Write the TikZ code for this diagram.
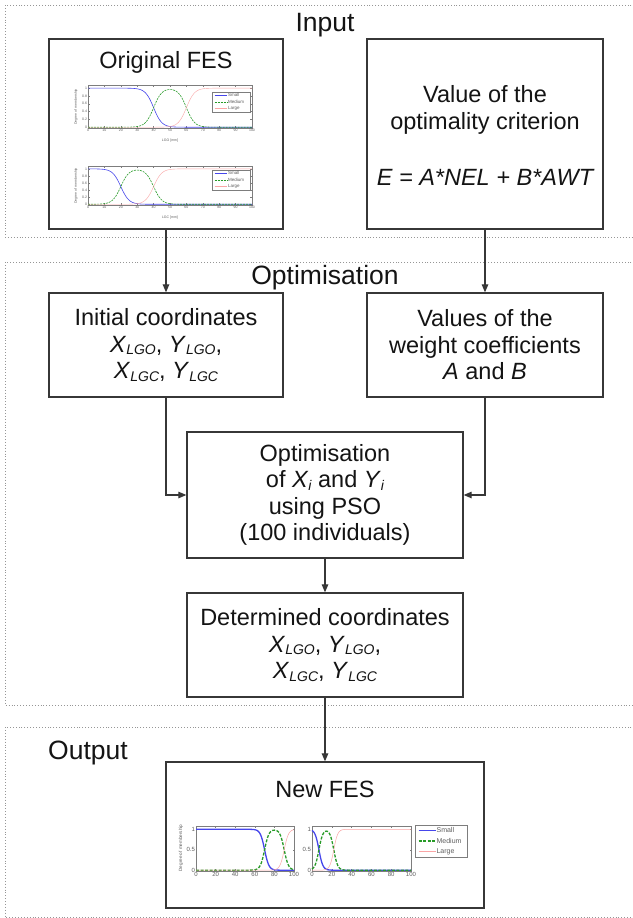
\documentclass[tikz,border=0pt]{standalone}
\usepackage{fontspec}
\setmainfont{Liberation Sans}
\usetikzlibrary{arrows.meta}
\definecolor{boxc}{RGB}{55,55,55}
\definecolor{dotc}{RGB}{150,150,150}
\definecolor{smallc}{RGB}{70,70,235}
\definecolor{medc}{RGB}{40,155,40}
\definecolor{largec}{RGB}{250,165,165}
\definecolor{axc}{RGB}{125,125,125}
\definecolor{labc}{RGB}{95,95,95}
\definecolor{txtc}{RGB}{20,20,20}
\newcommand\lsub[1]{\raisebox{-2.5pt}{\fontsize{14}{14}\selectfont\itshape #1}}
\newcommand\tickfont{\fontsize{3.5}{3.5}\selectfont}
\newcommand\legfont{\fontsize{4.5}{4.5}\selectfont}
\tikzset{
  region/.style={draw=dotc, dotted, line width=0.9pt},
  block/.style={draw=boxc, line width=1.3pt, inner sep=0pt, align=center, text=txtc,
                font=\fontsize{23.5}{26.5}\selectfont},
  txt/.style={inner sep=0pt, align=center, text=txtc, font=\fontsize{23.5}{26.5}\selectfont},
  head/.style={inner sep=0pt, text=txtc, font=\fontsize{26.5}{30}\selectfont},
  conn/.style={draw=boxc, line width=1.2pt, -{Triangle[length=8pt,width=6.5pt]}},
  axline/.style={draw=axc, line width=0.4pt},
  ticklab/.style={inner sep=0.8pt, text=labc, font=\tickfont},
  leglab/.style={inner sep=0.6pt, anchor=west, text=labc, font=\legfont},
  smallline/.style={draw=smallc, line width=0.6pt},
  medline/.style={draw=medc, line width=0.6pt, dash pattern=on 2pt off 1pt},
  largeline/.style={draw=largec, line width=0.4pt},
}
% #1 left #2 top #3 right #4 bottom (px), #5 x tick step, #6 y ticks, #7 c1, #8 c2, #9 k
\newcommand\fesplot[9]{%
  \pgfmathsetmacro\axw{(#3-#1)/100}%
  \pgfmathsetmacro\axh{(#4-#2)/1.1}%
  \pgfmathsetmacro\ayo{#4-0.02*\axh}%
  \begin{scope}[shift={(#1,\ayo)}, x=\axw pt, y=\axh pt]
    \draw[axline] (0,-0.02) rectangle (100,1.08);
    \foreach \tk in {0,#5,...,100}{%
      \draw[axline] (\tk,-0.02) -- ++(0,0.06) (\tk,1.08) -- ++(0,-0.06);
      \node[ticklab, anchor=north] at (\tk,-0.02) {\tk};}
    \foreach \tk in {#6}{%
      \draw[axline] (0,\tk) -- ++(1.2,0) (100,\tk) -- ++(-1.2,0);
      \node[ticklab, anchor=east] at (0,\tk) {\tk};}
    \draw[smallline] plot[domain=0:100, samples=161]
      (\x,{1/(1+exp(max(-9,min(9,(\x-#7)/#9))))});
    \draw[medline] plot[domain=0:100, samples=161]
      (\x,{1/(1+exp(max(-9,min(9,(#7-\x)/#9))))/(1+exp(max(-9,min(9,(\x-#8)/#9))))});
    \draw[largeline] plot[domain=0:100, samples=161]
      (\x,{1/(1+exp(max(-9,min(9,(#8-\x)/#9))))});
  \end{scope}}
% #1 left #2 top #3 right #4 bottom
\newcommand\feslegend[4]{%
  \pgfmathsetmacro\lgh{(#4-#2)/3}%
  \pgfmathsetmacro\lga{#1+0.07*(#3-#1)}%
  \pgfmathsetmacro\lgb{#1+0.40*(#3-#1)}%
  \pgfmathsetmacro\lya{#2+0.5*\lgh}%
  \pgfmathsetmacro\lyb{#2+1.5*\lgh}%
  \pgfmathsetmacro\lyc{#2+2.5*\lgh}%
  \draw[axline, fill=white] (#1,#2) rectangle (#3,#4);
  \draw[smallline] (\lga,\lya) -- (\lgb,\lya);
  \draw[medline] (\lga,\lyb) -- (\lgb,\lyb);
  \draw[largeline] (\lga,\lyc) -- (\lgb,\lyc);
  \node[leglab] at (\lgb,\lya) {Small};
  \node[leglab] at (\lgb,\lyb) {Medium};
  \node[leglab] at (\lgb,\lyc) {Large};}
\begin{document}
\begin{tikzpicture}[x=1pt, y=-1pt]
\useasboundingbox (0,0) rectangle (632,918);
\fill[white] (0,0) rectangle (632,918);
% regions
\draw[region] (640,5) -- (5,5) -- (5,237) -- (640,237);
\draw[region] (640,262) -- (5,262) -- (5,705) -- (640,705);
\draw[region] (640,727) -- (5,727) -- (5,917) -- (640,917);
% headings
\node[head] (hin) at (325,25) {Input};
\node[head] (hopt) at (325,278) {Optimisation};
\node[head] (hout) at (88,753) {Output};
% input blocks
\node[block, minimum width=234pt, minimum height=190pt] (orig) at (166,134) {};
\node[txt] (origt) at (166,62) {Original FES};
\node[block, minimum width=236pt, minimum height=190pt] (crit) at (485,134) {};
\node[txt] (critt) at (485,110) {Value of the\\optimality criterion};
\node[txt] (form) at (485,177) {\itshape E = A*NEL + B*AWT};
% original FES plots
\fesplot{88}{85}{252}{128}{10}{0,0.2,0.4,0.6,0.8,1}{40}{60}{2.5}
\feslegend{212}{92}{250}{112}
\node[ticklab, rotate=90] (yl1) at (76,107) {Degree of membership};
\node[ticklab] (xl1) at (170,141) {LGO [mm]};
\fesplot{88}{166}{252}{205}{10}{0,0.2,0.4,0.6,0.8,1}{20}{40}{2.5}
\feslegend{212}{170}{250}{190}
\node[ticklab, rotate=90] (yl2) at (76,186) {Degree of membership};
\node[ticklab] (xl2) at (170,218) {LGC [mm]};
% optimisation blocks
\node[block, minimum width=234pt, minimum height=104pt] (init) at (166,345)
  {Initial coordinates\\\textit{X}\lsub{LGO}, \textit{Y}\lsub{LGO},\\\textit{X}\lsub{LGC}, \textit{Y}\lsub{LGC}};
\node[block, minimum width=236pt, minimum height=104pt] (weights) at (485,345)
  {Values of the\\weight coefficients\\\textit{A} and \textit{B}};
\node[block, minimum width=276pt, minimum height=126pt] (pso) at (325,495)
  {Optimisation\\of \textit{X}\lsub{i} and \textit{Y}\lsub{i}\\using PSO\\(100 individuals)};
\node[block, minimum width=276pt, minimum height=104pt] (det) at (325,645)
  {Determined coordinates\\\textit{X}\lsub{LGO}, \textit{Y}\lsub{LGO},\\\textit{X}\lsub{LGC}, \textit{Y}\lsub{LGC}};
% output block
\node[block, minimum width=318pt, minimum height=146pt] (newfes) at (325,835) {};
\node[txt] (newt) at (325,789) {New FES};
\renewcommand\tickfont{\fontsize{6}{6}\selectfont}
\renewcommand\legfont{\fontsize{7}{7}\selectfont}
\tikzset{
  smallline/.style={draw=smallc, line width=1.3pt},
  medline/.style={draw=medc, line width=1.3pt, dash pattern=on 3pt off 1.5pt},
  largeline/.style={draw=largec, line width=0.5pt},
}
\fesplot{196}{826}{294}{871}{20}{0,0.5,1}{70}{90}{2.2}
\fesplot{312}{826}{411}{871}{20}{0,0.5,1}{7}{22}{2.0}
\feslegend{415}{825}{467}{857}
\node[ticklab, rotate=90, font=\fontsize{4.6}{4.6}\selectfont] (yl3) at (181,848) {Degree of membership};
% connectors
\draw[conn] (orig.south) -- (init.north);
\draw[conn] (crit.south) -- (weights.north);
\draw[conn] (init.south) |- (pso.west);
\draw[conn] (weights.south) |- (pso.east);
\draw[conn] (pso.south) -- (det.north);
\draw[conn] (det.south) -- (newfes.north);
\end{tikzpicture}
\end{document}
